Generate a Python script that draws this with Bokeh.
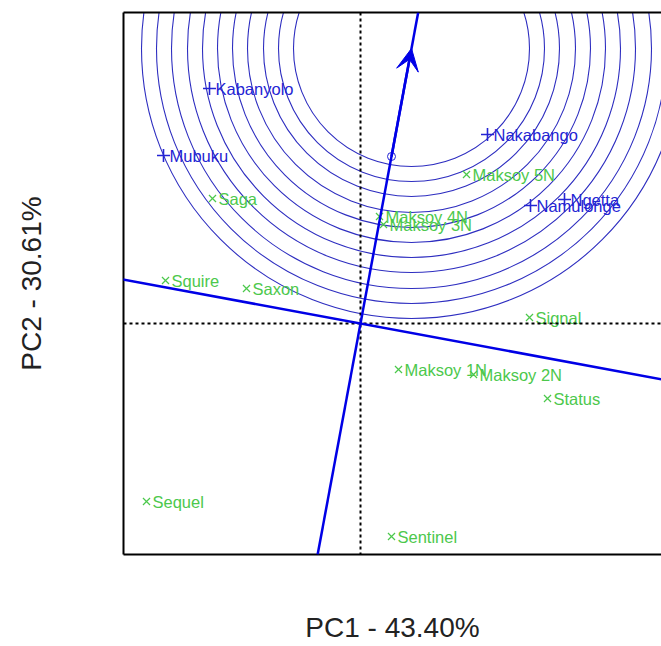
from bokeh.plotting import figure
from bokeh.models import Range1d, LinearAxis, FixedTicker, Span, Slope, Arrow, VeeHead
from bokeh.embed import file_html
from bokeh.resources import INLINE
from bokeh.core.properties import value

# Environments (blue +)
env_names = ["Kabanyolo", "Mubuku", "Nakabango", "Namulonge", "Ngetta"]
env_x = [-1.51, -1.97, 1.27, 1.70, 2.04]
env_y = [2.35, 1.68, 1.89, 1.18, 1.24]

# Genotypes (green x)
gen_names = ["Saga", "Maksoy 5N", "Maksoy 4N", "Maksoy 3N", "Squire", "Saxon",
             "Signal", "Maksoy 1N", "Maksoy 2N", "Status", "Sequel", "Sentinel"]
gen_x = [-1.48, 1.06, 0.19, 0.23, -1.95, -1.14, 1.69, 0.38, 1.13, 1.87, -2.14, 0.31]
gen_y = [1.25, 1.49, 1.07, 0.99, 0.43, 0.35, 0.06, -0.46, -0.51, -0.75, -1.78, -2.13]

# Average environment and ideal point
avg_env_x = [0.31]
avg_env_y = [1.67]
ideal_x = [0.51]
ideal_y = [2.75]

# Concentric circle radii around the ideal point
radii = [1.18, 1.33, 1.48, 1.64, 1.79, 1.94, 2.09, 2.24, 2.40, 2.55, 2.70]

x_label = "PC1 - 43.40%"
y_label = "PC2 - 30.61%"

FONT = "Liberation Sans"
BLUE = "#0000e6"
ENV_COL = "#2424d4"
GEN_COL = "#4cc84c"
CIRC_COL = "#2e2ec0"

p = figure(width=661, height=646, output_backend="svg", toolbar_location=None,
           x_range=Range1d(-2.37, 3.01), y_range=Range1d(-2.31, 3.11),
           min_border_left=123, min_border_right=0, min_border_top=12,
           min_border_bottom=92)
p.grid.visible = False
p.outline_line_color = None
p.background_fill_color = "white"
p.border_fill_color = "white"

for ax in (p.xaxis[0], p.yaxis[0]):
    ax.ticker = FixedTicker(ticks=[])
    ax.axis_line_width = 2
    ax.axis_line_color = "black"
    ax.major_tick_line_color = None
    ax.minor_tick_line_color = None
    ax.major_tick_out = 0
    ax.minor_tick_out = 0
    ax.major_label_standoff = 0
    ax.axis_label_text_font = FONT
    ax.axis_label_text_font_size = "28px"
    ax.axis_label_text_font_style = "normal"
    ax.axis_label_text_color = "#222222"

p.xaxis[0].axis_label = x_label
p.xaxis[0].axis_label_standoff = 57
p.yaxis[0].axis_label = y_label
p.yaxis[0].axis_label_standoff = 77

top_axis = LinearAxis(ticker=FixedTicker(ticks=[]), axis_line_width=2,
                      axis_line_color="black", major_tick_line_color=None,
                      minor_tick_line_color=None, major_tick_out=0,
                      minor_tick_out=0, major_label_standoff=0)
p.add_layout(top_axis, "above")

# dotted axes through origin
p.add_layout(Span(location=0, dimension="height", line_color="black",
                  line_width=2, line_dash="3 3"))
p.add_layout(Span(location=0, dimension="width", line_color="black",
                  line_width=2, line_dash="3 3"))

# concentric circles
p.circle(x=ideal_x * len(radii), y=ideal_y * len(radii), radius=radii,
         fill_color=None, line_color=CIRC_COL, line_width=1.1)

# average-environment axis and its perpendicular
grad = ideal_y[0] / ideal_x[0]
p.add_layout(Slope(gradient=grad, y_intercept=0, line_color=BLUE, line_width=2.5))
p.add_layout(Slope(gradient=-1.0 / grad, y_intercept=0, line_color=BLUE, line_width=2.5))
p.add_layout(Arrow(end=VeeHead(size=22, fill_color=BLUE, line_color=BLUE),
                   x_start=avg_env_x[0], y_start=avg_env_y[0],
                   x_end=ideal_x[0], y_end=ideal_y[0],
                   line_color=BLUE, line_width=2.5))

p.scatter(avg_env_x, avg_env_y, marker="circle", size=8, fill_color=None,
          line_color=ENV_COL, line_width=1)

# genotypes
p.scatter(gen_x, gen_y, marker="x", size=10, line_color=GEN_COL, line_width=1.2)
p.text(x=gen_x, y=gen_y, text=gen_names, x_offset=6, text_baseline="middle",
       text_font=value(FONT), text_font_size="16.5px", text_color=GEN_COL)

# environments
p.scatter(env_x, env_y, marker="cross", size=13, line_color=ENV_COL, line_width=1.6)
p.text(x=env_x, y=env_y, text=env_names, x_offset=6, text_baseline="middle",
       text_font=value(FONT), text_font_size="16.5px", text_color=ENV_COL)

open("out.html", "w").write(file_html(p, INLINE))
